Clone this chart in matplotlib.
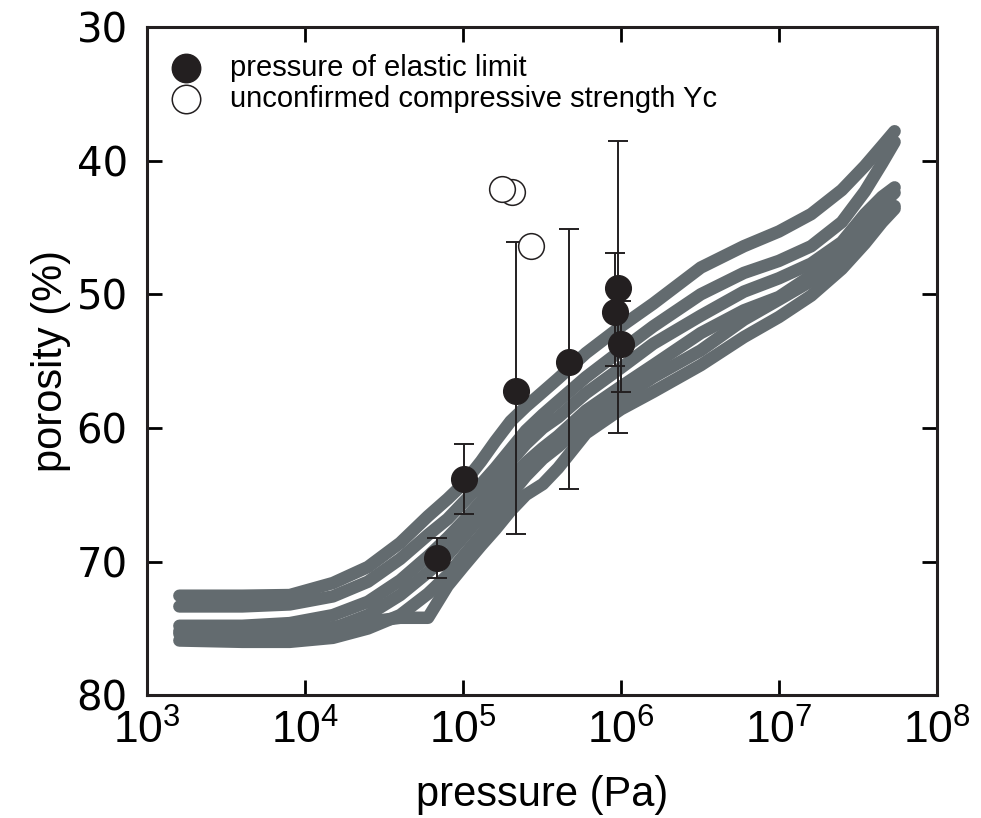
import matplotlib
matplotlib.use("Agg")
import matplotlib.pyplot as plt
from matplotlib.ticker import NullLocator
import numpy as np

# ---- data ---- #
pressure_grid = [1.6e3, 4e3, 8e3, 1.5e4, 2.5e4, 4e4, 6e4, 8e4, 1e5, 1.3e5, 1.6e5, 2e5,
                 2.5e5, 3.2e5, 4e5, 6e5, 1e6, 1.6e6, 3.2e6, 6e6, 1e7, 1.6e7, 2.5e7,
                 3.5e7, 4.5e7, 5.4e7]
curve1 = [72.55, 72.55, 72.5, 71.6, 70.4, 68.6, 66.6, 65.3, 64.2, 62.5, 61.0, 59.5,
          58.4, 57.3, 56.3, 54.4, 52.4, 50.7, 48.0, 46.4, 45.3, 44.0, 42.2, 40.4, 38.9, 37.8]
curve2 = [73.35, 73.35, 73.2, 72.6, 71.5, 69.8, 68.0, 66.8, 65.6, 64.2, 63.0, 61.6,
          60.2, 59.0, 58.0, 56.2, 54.2, 52.4, 50.0, 48.4, 47.5, 46.4, 44.6, 42.3, 40.2, 38.6]
curve3 = [74.8, 74.8, 74.6, 74.0, 73.0, 71.4, 69.6, 68.2, 67.0, 65.5, 64.0, 62.5,
          61.2, 60.0, 59.2, 57.4, 55.5, 53.7, 51.6, 49.8, 48.8, 47.7, 46.1, 44.0, 42.7, 42.0]
curve4 = [75.4, 75.5, 75.5, 75.0, 74.0, 72.5, 70.8, 69.5, 68.2, 66.6, 65.2, 63.8,
          62.6, 61.5, 60.6, 58.7, 56.9, 55.3, 52.9, 51.2, 50.2, 48.6, 46.6, 44.6, 43.8, 43.4]
curve5 = [75.9, 76.0, 76.0, 75.7, 75.0, 74.0, 72.4, 71.0, 69.6, 68.0, 66.6, 65.0,
          63.6, 62.3, 61.4, 59.6, 57.8, 56.2, 54.2, 51.9, 50.4, 49.0, 47.3, 45.0, 43.3, 42.4]
curve6 = [75.2, 75.7, 75.4, 74.9, 74.5, 74.2, 74.2, 71.8, 70.4, 68.8, 67.6, 66.2,
          65.0, 64.2, 63.0, 60.4, 58.6, 57.3, 55.3, 53.2, 51.7, 50.1, 48.1, 46.2, 44.6, 43.6]
curves = [curve1, curve2, curve3, curve4, curve5, curve6]

# elastic-limit points with error bars (porosity range top..bottom)
elastic_p = [6.85e4, 1.01e5, 2.16e5, 4.69e5, 9.57e5, 9.16e5, 1.0e6]
elastic_phi = [69.7, 63.8, 57.2, 55.1, 49.5, 51.3, 53.7]
err_top = [68.2, 61.2, 46.1, 45.1, 38.5, 46.9, 50.5]
err_bot = [71.2, 66.4, 67.9, 64.6, 60.4, 55.4, 57.3]

# unconfirmed compressive strength Yc
yc_p = [2.04e5, 1.77e5, 2.69e5]
yc_phi = [42.35, 42.1, 46.4]

legend_labels = ["pressure of elastic limit", "unconfirmed compressive strength Yc"]

GRAY = "#636b6f"
DARK = "#231f20"

plt.rcParams["font.family"] = ["Liberation Sans", "DejaVu Sans"]
plt.rcParams["mathtext.default"] = "regular"

fig = plt.figure(figsize=(9.81, 8.18), dpi=100)
ax = fig.add_axes([0.150, 0.150, 0.805, 0.817])

for c in curves:
    ax.plot(pressure_grid, c, color=GRAY, lw=9, solid_capstyle="round",
            solid_joinstyle="round", zorder=2)

lo = np.array(elastic_phi) - np.array(err_top)
hi = np.array(err_bot) - np.array(elastic_phi)
ax.errorbar(elastic_p, elastic_phi, yerr=[lo, hi], fmt="none", ecolor=DARK,
            elinewidth=1.4, capsize=7, capthick=1.4, zorder=3)
ax.plot(elastic_p, elastic_phi, "o", ms=18.5, color=DARK, mec=DARK, zorder=4)
ax.plot(yc_p, yc_phi, "o", ms=18.5, mfc="white", mec=DARK, mew=1.1, zorder=4)

ax.set_xscale("log")
ax.set_xlim(1e3, 1e8)
ax.set_ylim(80, 30)
ax.set_xticks([1e3, 1e4, 1e5, 1e6, 1e7, 1e8])
ax.xaxis.set_minor_locator(NullLocator())
ax.set_yticks([30, 40, 50, 60, 70, 80])

ax.tick_params(direction="in", length=11, width=2, top=True, right=True)
ax.tick_params(axis="x", labelsize=32, pad=10)
ax.tick_params(axis="y", labelsize=29, pad=14)
for lab in ax.get_yticklabels():
    lab.set_fontfamily("DejaVu Sans")
for s in ax.spines.values():
    s.set_linewidth(2.2)
    s.set_color(DARK)

ax.set_xlabel("pressure (Pa)", fontsize=30, labelpad=16)
ax.set_ylabel("porosity (%)", fontsize=30, labelpad=4)

# legend drawn by hand so the marker/text spacing follows the reference
ax.plot([0.049], [0.939], "o", ms=20.5, color=DARK, transform=ax.transAxes, clip_on=False)
ax.plot([0.049], [0.893], "o", ms=20.5, mfc="white", mec=DARK, mew=1.1,
        transform=ax.transAxes, clip_on=False)
ax.text(0.105, 0.939, legend_labels[0], transform=ax.transAxes, fontsize=21, va="center")
ax.text(0.105, 0.893, legend_labels[1], transform=ax.transAxes, fontsize=21, va="center")

fig.savefig("out.png", dpi=100)
